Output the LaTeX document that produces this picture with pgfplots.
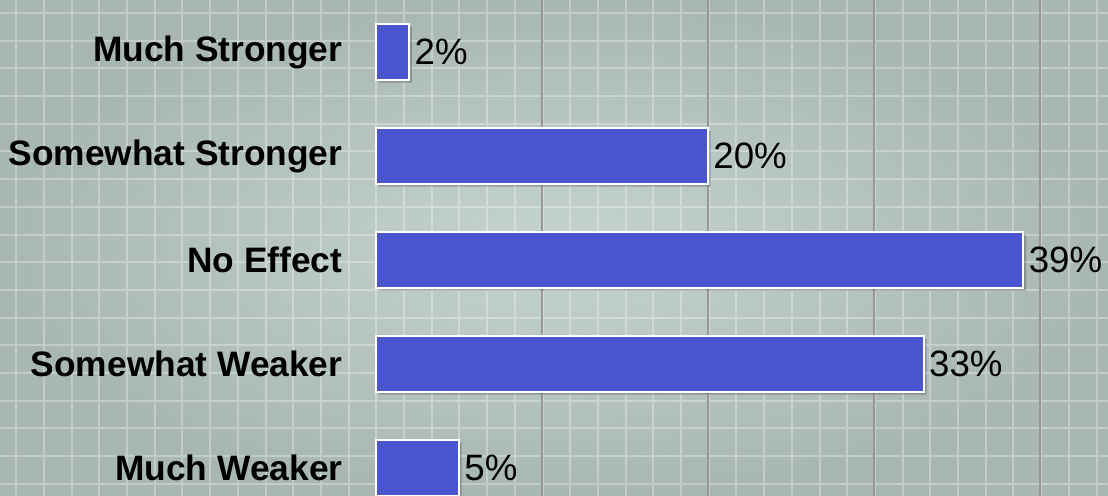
\documentclass[border=0pt]{standalone}
\usepackage{pgfplots}
\pgfplotsset{compat=1.18}
\usepackage{fontspec}
\setmainfont{Liberation Sans}
\definecolor{barblue}{RGB}{74,85,207}
\definecolor{bginner}{RGB}{198,212,207}
\definecolor{bgouter}{RGB}{168,183,180}
\definecolor{majorline}{RGB}{152,150,154}
\begin{document}
\begin{tikzpicture}
\useasboundingbox (0,0) rectangle (831pt,372pt);
% decorative backdrop: soft vignette and light square grid
\shade[inner color=bginner, outer color=bgouter] (0,0) rectangle (831pt,372pt);
\draw[white, opacity=0.3, line width=1.5pt, shift={(12.2pt,9.075pt)}]
    (-12.2pt,-9.075pt) grid[step=20.775pt] (818.8pt,362.925pt);
\begin{axis}[
    at={(0,0)}, anchor=south west,
    scale only axis,
    width=831pt, height=372pt,
    xmin=-22.65, xmax=44.10,
    ymin=-0.2692, ymax=4.5,
    axis line style={draw=none},
    major tick length=0pt,
    xtick={10,20,30,40},
    xticklabels={},
    xmajorgrids=true,
    major grid style={draw=majorline, line width=1.5pt},
    ytick={0,1,2,3,4},
    yticklabels={Much Weaker, Somewhat Weaker, No Effect, Somewhat Stronger, Much Stronger},
    yticklabel style={anchor=east, xshift=257pt, inner sep=0pt,
        font=\fontsize{26.5}{30}\selectfont\bfseries},
    /pgf/number format/assume math mode=true,
    nodes near coords={\pgfmathprintnumber{\pgfplotspointmeta}\%},
    nodes near coords style={anchor=west, xshift=0pt, text=black,
        font=\fontsize{27.5}{31}\selectfont},
    point meta=explicit,
]
% values in percent, bottom category first
\addplot[xbar, bar width=42pt, fill=barblue, draw=white, line width=1.5pt,
    preaction={fill=black, opacity=0.22, draw=none, transform canvas={xshift=2pt, yshift=-2pt}}]
    coordinates {
    (5,0) [5]
    (33,1) [33]
    (39,2) [39]
    (20,3) [20]
    (2,4) [2]
    };
\end{axis}
\end{tikzpicture}
\end{document}
